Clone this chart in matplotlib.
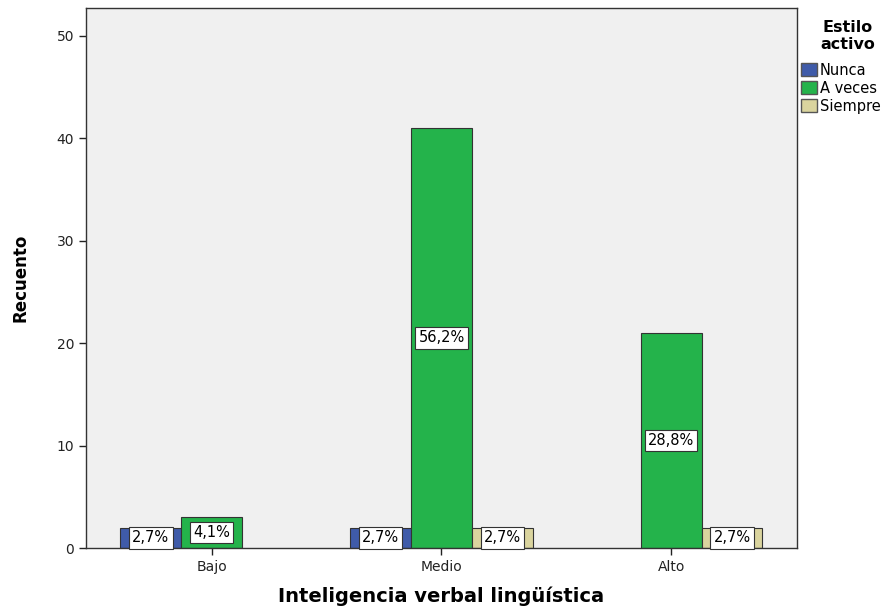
import numpy as np
import matplotlib.pyplot as plt
from matplotlib.patches import Patch

plt.rcParams['font.family'] = ['DejaVu Sans']

categorias = ['Bajo', 'Medio', 'Alto']
series = ['Nunca', 'A veces', 'Siempre']
nunca = [2, 2, 0]
a_veces = [3, 41, 21]
siempre = [0, 2, 2]
etiquetas = {
    'Nunca': ['2,7%', '2,7%', None],
    'A veces': ['4,1%', '56,2%', '28,8%'],
    'Siempre': [None, '2,7%', '2,7%'],
}
colores = ['#3F5BA9', '#24B34B', '#DAD49E']

fig = plt.figure(figsize=(8.95, 6.09), dpi=100)
ax = fig.add_axes([0.096, 0.100, 0.7945, 0.887])
ax.set_facecolor('#F0F0F0')

x = np.arange(len(categorias))
ancho = 0.265
for i, (nombre, vals, col) in enumerate(zip(series, [nunca, a_veces, siempre], colores)):
    pos = x + (i - 1) * ancho
    for p, v, lab in zip(pos, vals, etiquetas[nombre]):
        if v == 0:
            continue
        ax.bar(p, v, width=ancho, color=col, edgecolor='#333333', linewidth=0.8)
        if lab:
            ax.text(p, v / 2, lab, ha='center', va='center', fontsize=10.5,
                    bbox=dict(boxstyle='square,pad=0.22', fc='white', ec='#333333', lw=0.8))

ax.set_xlim(-0.548, 2.548)
ax.set_ylim(0, 52.7)
ax.set_yticks(range(0, 51, 10))
ax.set_xticks(x)
ax.set_xticklabels(categorias)
ax.tick_params(axis='both', labelsize=10, colors='#222222', length=5, width=1)
for s in ax.spines.values():
    s.set_color('#333333')
    s.set_linewidth(1)

ax.set_ylabel('Recuento', fontsize=12, fontweight='bold')
ax.yaxis.set_label_coords(-0.080, 0.5)
fig.text(0.493, 0.021, 'Inteligencia verbal lingüística', ha='center', va='center',
         fontsize=14, fontweight='bold')

# leyenda: titulo aparte para controlar su posicion
fig.text(0.947, 0.941, 'Estilo\nactivo', ha='center', va='center',
         fontsize=11.5, fontweight='bold', linespacing=1.2)
handles = [Patch(facecolor=c, edgecolor='#555555', label=n) for n, c in zip(series, colores)]
leg = fig.legend(handles=handles, loc='upper left',
                 bbox_to_anchor=(0.895, 0.897), frameon=False, fontsize=10.5,
                 handlelength=1.1, handleheight=1.0, handletextpad=0.2,
                 labelspacing=0.2, borderpad=0.0, borderaxespad=0)

fig.savefig('out.png', dpi=100)
